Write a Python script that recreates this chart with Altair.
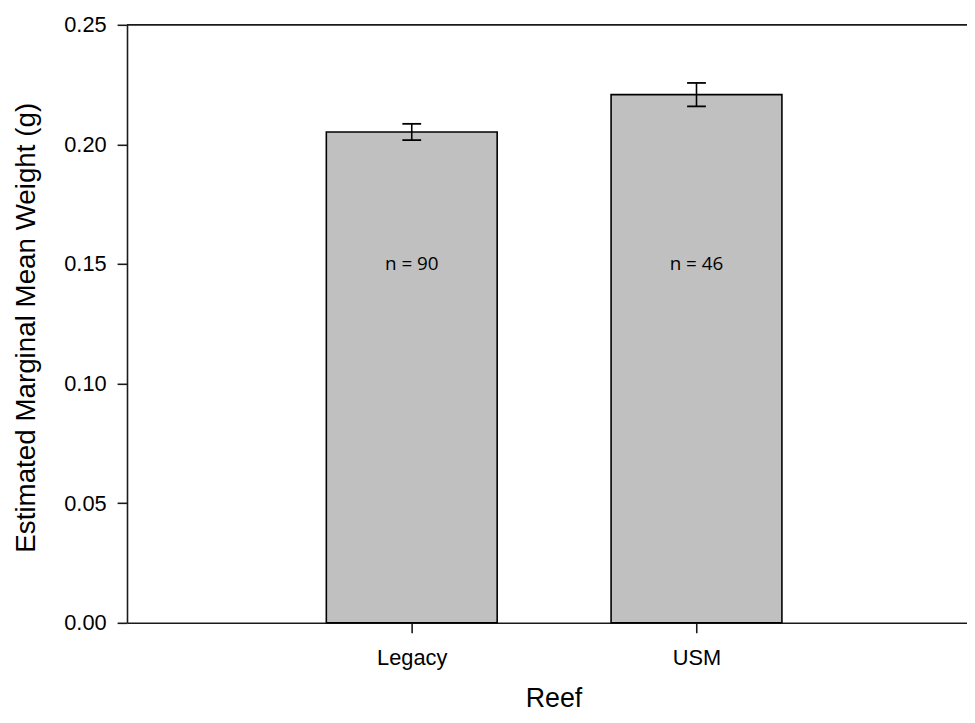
import json
import altair as alt
import pandas as pd

# ---- data ----
reefs = ["Legacy", "USM"]
means = [0.2052, 0.2208]
errors = [0.0034, 0.0049]
counts = [90, 46]
y_ticks = [0.0, 0.05, 0.10, 0.15, 0.20, 0.25]
n_label_y = 0.15
y_max = 0.25

df = pd.DataFrame({"reef": reefs, "mean": means, "err": errors, "n": counts})
df["pos"] = list(range(1, len(reefs) + 1))
df["label"] = ["n = %d" % c for c in counts]

W, H = 847, 603
FONT = "Liberation Sans"
DARK = "#1a1a1a"

xscale = alt.Scale(domain=[0, 2.95], nice=False, zero=False)
yscale = alt.Scale(domain=[0, y_max], nice=False, zero=True)

label_expr = json.dumps(reefs) + "[datum.value - 1]"

xaxis = alt.Axis(
    values=[1, 2],
    labelExpr=label_expr,
    title="Reef",
    labelBaseline="alphabetic",
    labelPadding=32,
    titleX=430,
    titleY=84,
    titleBaseline="alphabetic",
    titleAlign="center",
    titleFontSize=27,
)
yaxis = alt.Axis(
    values=y_ticks,
    format=".2f",
    title="Estimated Marginal Mean Weight (g)",
    labelPadding=11,
    titleX=-93,
    titleY=305,
    titleAngle=270,
    titleBaseline="alphabetic",
    titleAlign="center",
    titleFontSize=28,
)

base = alt.Chart(df).transform_calculate(
    xl="datum.pos - 0.3",
    xr="datum.pos + 0.3",
    lo="datum.mean - datum.err",
    hi="datum.mean + datum.err",
    cl="datum.pos - 0.033",
    cr="datum.pos + 0.033",
    ly=str(n_label_y),
    zero="0",
)

bars = base.mark_bar(fill="#c0c0c0", stroke="black", strokeWidth=1.6).encode(
    x=alt.X("xl:Q", scale=xscale, axis=xaxis),
    x2="xr:Q",
    y=alt.Y("mean:Q", scale=yscale, axis=yaxis),
    y2="zero:Q",
)

err_line = base.mark_rule(color="black", strokeWidth=1.6).encode(
    x=alt.X("pos:Q", scale=xscale, axis=xaxis),
    y=alt.Y("lo:Q", scale=yscale, axis=yaxis),
    y2="hi:Q",
)
cap_hi = base.mark_rule(color="black", strokeWidth=1.8).encode(
    x=alt.X("cl:Q", scale=xscale, axis=xaxis),
    x2="cr:Q",
    y=alt.Y("hi:Q", scale=yscale, axis=yaxis),
)
cap_lo = base.mark_rule(color="black", strokeWidth=1.8).encode(
    x=alt.X("cl:Q", scale=xscale, axis=xaxis),
    x2="cr:Q",
    y=alt.Y("lo:Q", scale=yscale, axis=yaxis),
)
n_text = base.mark_text(font="Open Sans", fontSize=19, color="black", baseline="middle").encode(
    x=alt.X("pos:Q", scale=xscale, axis=xaxis),
    y=alt.Y("ly:Q", scale=yscale, axis=yaxis),
    text="label:N",
)
top_line = base.mark_rule(color=DARK, strokeWidth=1.6).encode(
    y=alt.Y("top:Q", scale=yscale, axis=yaxis),
).transform_calculate(top=str(y_max))

chart = (
    alt.layer(bars, err_line, cap_hi, cap_lo, n_text, top_line)
    .properties(
        width=W,
        height=H,
        padding={"left": 120, "top": 14, "right": 0, "bottom": 90},
        autosize=alt.AutoSizeParams(type="none"),
    )
    .configure_view(stroke=None)
    .configure_axis(
        domainColor=DARK,
        domainWidth=1.6,
        tickColor=DARK,
        tickWidth=1.6,
        tickSize=10,
        grid=False,
        labelFont=FONT,
        labelFontSize=22,
        labelColor="black",
        titleFont=FONT,
        titleFontWeight="normal",
        titleColor="black",
    )
)

chart.save("out.html", embed_options={"renderer": "svg", "actions": False})
